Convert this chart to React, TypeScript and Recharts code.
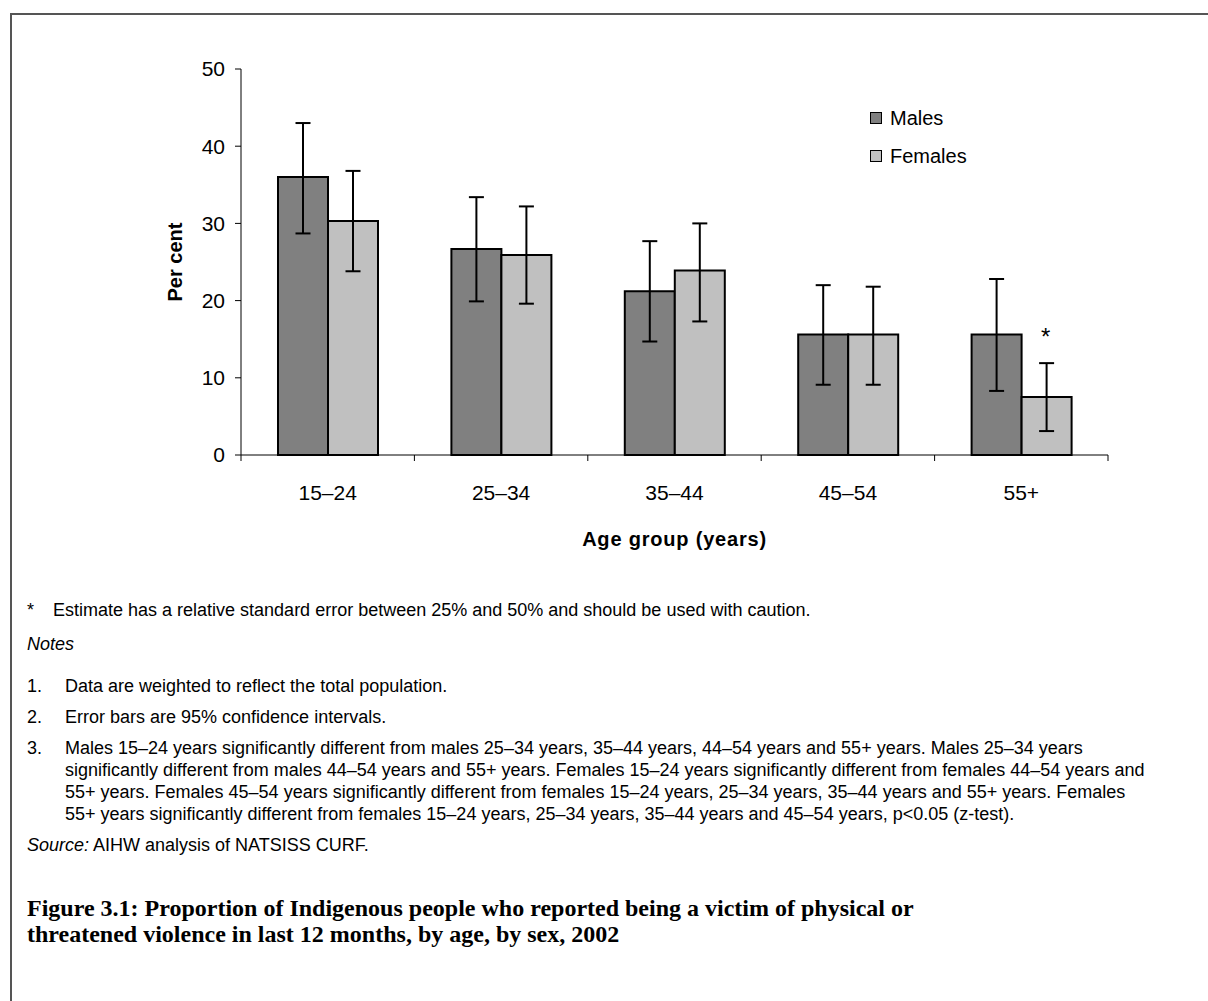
import { BarChart, Bar, XAxis, YAxis, ErrorBar, LabelList, Legend } from "recharts";

const ageGroups = ["15–24", "25–34", "35–44", "45–54", "55+"];
const males = [36.0, 26.7, 21.2, 15.6, 15.6];
const malesLow = [28.7, 19.9, 14.7, 9.1, 8.3];
const malesHigh = [43.0, 33.4, 27.7, 22.0, 22.8];
const females = [30.3, 25.9, 23.9, 15.6, 7.5];
const femalesLow = [23.8, 19.6, 17.3, 9.1, 3.1];
const femalesHigh = [36.8, 32.2, 30.0, 21.8, 11.9];
// "*" = relative standard error between 25% and 50%
const femalesFlag = ["", "", "", "", "*"];
const yTicks = [0, 10, 20, 30, 40, 50];
const seriesOrder = ["Males", "Females"];

const data = ageGroups.map((age, i) => ({
  age,
  Males: males[i],
  malesErr: [males[i] - malesLow[i], malesHigh[i] - males[i]],
  Females: females[i],
  femalesErr: [females[i] - femalesLow[i], femalesHigh[i] - females[i]],
  flag: femalesFlag[i],
}));

const SANS = '"Liberation Sans", Arial, sans-serif';
const SERIF = '"Liberation Serif", "Times New Roman", serif';

const CHART_W = 1208;
const Y_AXIS_W = 241;
const RIGHT = 100;
const BAND = (CHART_W - Y_AXIS_W - RIGHT) / ageGroups.length;

const AgeTick = (props: any) => {
  const { x, y, payload, index } = props;
  const half = BAND / 2;
  return (
    <g>
      <line x1={x - half} y1={y} x2={x - half} y2={y + 6} stroke="#000" />
      {index === ageGroups.length - 1 && (
        <line x1={x + half} y1={y} x2={x + half} y2={y + 6} stroke="#000" />
      )}
      <text x={x} y={y + 45} textAnchor="middle" fontFamily={SANS} fontSize={21} fill="#000">
        {payload.value}
      </text>
    </g>
  );
};

const renderXLabel = (props: any) => {
  const vb = props.viewBox;
  return (
    <text
      x={vb.x + vb.width / 2}
      y={vb.y + 91}
      textAnchor="middle"
      fontFamily={SANS}
      fontSize={20}
      fontWeight="bold"
      letterSpacing={0.8}
      fill="#000"
    >
      Age group (years)
    </text>
  );
};

const renderYLabel = (props: any) => {
  const vb = props.viewBox;
  const cx = vb.x + vb.width - 66;
  const cy = vb.y + vb.height / 2;
  return (
    <text
      x={cx}
      y={cy}
      transform={`rotate(-90 ${cx} ${cy})`}
      textAnchor="middle"
      dominantBaseline="central"
      fontFamily={SANS}
      fontSize={20}
      fontWeight="bold"
      fill="#000"
    >
      Per cent
    </text>
  );
};

const renderFlag = (props: any) => {
  const { x, y, width, height, value, index } = props;
  if (!value) return null;
  const perUnit = height / females[index];
  const yHigh = y + height - femalesHigh[index] * perUnit;
  return (
    <text x={x + width / 2 - 1} y={yHigh - 18} textAnchor="middle" fontFamily={SANS} fontSize={24} fill="#000">
      {value}
    </text>
  );
};

const renderLegend = (props: any) => {
  const items = [...(props.payload || [])].sort(
    (a: any, b: any) => seriesOrder.indexOf(a.value) - seriesOrder.indexOf(b.value)
  );
  return (
    <div style={{ fontFamily: SANS, fontSize: 20, color: "#000" }}>
      {items.map((entry: any) => (
        <div key={entry.value} style={{ display: "flex", alignItems: "center", height: 38 }}>
          <span
            style={{
              display: "inline-block",
              width: 10,
              height: 10,
              border: "1.5px solid #000",
              background: entry.color,
              marginRight: 8,
            }}
          />
          {entry.value}
        </div>
      ))}
    </div>
  );
};

const noteText: React.CSSProperties = {
  position: "absolute",
  fontFamily: SANS,
  fontSize: 18,
  lineHeight: "22px",
  color: "#000",
  whiteSpace: "nowrap",
};

const App = () => {
  return (
    <div style={{ position: "absolute", left: 0, top: 0, width: 1208, height: 1001, background: "#fff", overflow: "hidden" }}>
      <div
        style={{
          position: "absolute",
          left: 10,
          top: 13,
          width: 1300,
          height: 1100,
          borderTop: "2px solid #555",
          borderLeft: "2px solid #555",
        }}
      />
      <div style={{ position: "absolute", left: 0, top: 0 }}>
        <BarChart
          width={CHART_W}
          height={555}
          data={data}
          margin={{ top: 69, right: RIGHT, left: 0, bottom: 0 }}
          barGap={0}
        >
          <XAxis
            dataKey="age"
            height={100}
            stroke="#000"
            tickLine={false}
            tickSize={0}
            tickMargin={0}
            tick={<AgeTick />}
            interval={0}
            label={renderXLabel}
          />
          <YAxis
            width={Y_AXIS_W}
            domain={[0, 50]}
            ticks={yTicks}
            stroke="#000"
            tickSize={6}
            tickMargin={10}
            tick={{ fill: "#000", fontFamily: SANS, fontSize: 21 }}
            label={renderYLabel}
          />
          <Legend
            layout="vertical"
            align="center"
            verticalAlign="middle"
            content={renderLegend}
            wrapperStyle={{ left: 870, top: 99, width: 200 }}
          />
          <Bar dataKey="Males" fill="#808080" stroke="#000" strokeWidth={2} barSize={50} isAnimationActive={false}>
            <ErrorBar dataKey="malesErr" width={7.5} stroke="#000" strokeWidth={2} />
          </Bar>
          <Bar dataKey="Females" fill="#c0c0c0" stroke="#000" strokeWidth={2} barSize={50} isAnimationActive={false}>
            <ErrorBar dataKey="femalesErr" width={7.5} stroke="#000" strokeWidth={2} />
            <LabelList dataKey="flag" content={renderFlag} />
          </Bar>
        </BarChart>
      </div>

      <div style={{ ...noteText, left: 27, top: 599 }}>*</div>
      <div style={{ ...noteText, left: 53, top: 599 }}>
        Estimate has a relative standard error between 25% and 50% and should be used with caution.
      </div>
      <div style={{ ...noteText, left: 27, top: 633, fontStyle: "italic" }}>Notes</div>
      <div style={{ ...noteText, left: 27, top: 675 }}>1.</div>
      <div style={{ ...noteText, left: 65, top: 675 }}>Data are weighted to reflect the total population.</div>
      <div style={{ ...noteText, left: 27, top: 706 }}>2.</div>
      <div style={{ ...noteText, left: 65, top: 706 }}>Error bars are 95% confidence intervals.</div>
      <div style={{ ...noteText, left: 27, top: 737 }}>3.</div>
      <div style={{ ...noteText, left: 65, top: 737 }}>
        Males 15–24 years significantly different from males 25–34 years, 35–44 years, 44–54 years and 55+ years. Males 25–34 years
        <br />
        significantly different from males 44–54 years and 55+ years. Females 15–24 years significantly different from females 44–54 years and
        <br />
        55+ years. Females 45–54 years significantly different from females 15–24 years, 25–34 years, 35–44 years and 55+ years. Females
        <br />
        55+ years significantly different from females 15–24 years, 25–34 years, 35–44 years and 45–54 years, p&lt;0.05 (z-test).
      </div>
      <div style={{ ...noteText, left: 27, top: 834 }}>
        <i>Source:</i> AIHW analysis of NATSISS CURF.
      </div>
      <div
        style={{
          position: "absolute",
          left: 27,
          top: 895,
          fontFamily: SERIF,
          fontWeight: "bold",
          fontSize: 24,
          lineHeight: "26px",
          color: "#000",
          whiteSpace: "nowrap",
        }}
      >
        Figure 3.1: Proportion of Indigenous people who reported being a victim of physical or
        <br />
        threatened violence in last 12 months, by age, by sex, 2002
      </div>
    </div>
  );
};

export default App;
